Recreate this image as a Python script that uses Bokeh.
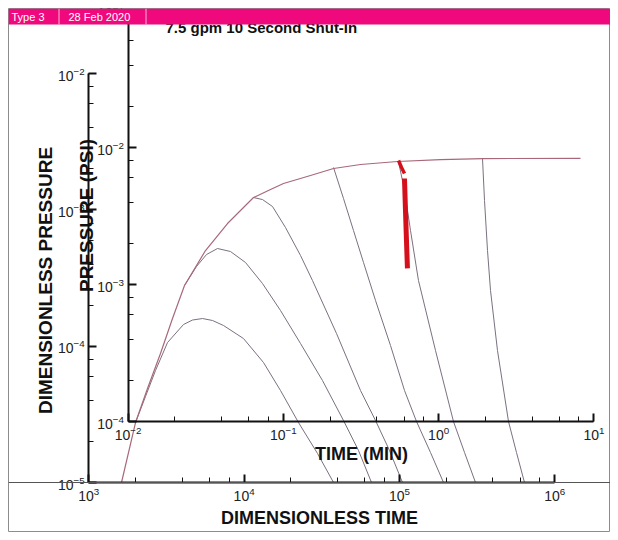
import math
from bokeh.plotting import figure
from bokeh.models import (Range1d, LogScale, LogAxis, Label, BoxAnnotation, Span)
from bokeh.embed import file_html
from bokeh.resources import INLINE

# ---------------- data ----------------
# Type-curve envelope (dimensionless time, dimensionless pressure)
env_t = [1624, 1999, 2388, 2895, 3459, 4133, 5643, 7818, 11496, 14792, 17934, 26765,
         37650, 56180, 97230, 183900, 348000, 1466000]
env_p = [1.0e-5, 2.754e-5, 4.891e-5, 8.835e-5, 1.595e-4, 2.786e-4, 5.031e-4,
         7.937e-4, 1.231e-3, 1.410e-3, 1.560e-3, 1.786e-3, 2.010e-3, 2.150e-3,
         2.262e-3, 2.339e-3, 2.379e-3, 2.382e-3]

# Shut-in (fall-off) type curves
a_t = [1999, 2318, 2689, 3212, 4072, 4653, 5396, 6258, 7369, 9911, 13332, 17155,
       22400, 29700, 37650]
a_p = [2.754e-5, 4.273e-5, 6.630e-5, 1.063e-4, 1.442e-4, 1.555e-4, 1.595e-4,
       1.543e-4, 1.418e-4, 1.138e-4, 7.589e-5, 4.729e-5, 2.754e-5, 1.632e-5, 1.0e-5]
b_t = [4133, 4937, 5727, 6741, 8173, 10210, 13136, 17155, 23083, 31974, 43660, 54538, 66130]
b_p = [2.786e-4, 3.840e-4, 4.700e-4, 5.204e-4, 4.947e-4, 4.109e-4, 2.881e-4,
       1.826e-4, 1.046e-4, 5.597e-5, 2.848e-5, 1.716e-5, 1.0e-5]
c_t = [11496, 13136, 15238, 18474, 23083, 27566, 39355, 56180, 70190, 86370, 104700]
c_p = [1.231e-3, 1.190e-3, 1.058e-3, 7.420e-4, 4.624e-4, 3.031e-4, 1.239e-4,
       4.729e-5, 2.848e-5, 1.716e-5, 1.0e-5]
d_t = [37650, 43660, 50630, 58730, 70190, 87650, 107900, 128900, 158600, 192300]
d_p = [2.044e-3, 1.211e-3, 7.053e-4, 4.109e-4, 2.163e-4, 1.011e-4, 4.729e-5,
       2.800e-5, 1.660e-5, 1.0e-5]
e_t = [98670, 107840, 117900, 132700, 170800, 222990, 262600, 309000]
e_p = [2.262e-3, 1.386e-3, 7.053e-4, 3.031e-4, 9.294e-5, 2.800e-5, 1.660e-5, 1.0e-5]
f_t = [342900, 353200, 369300, 386100, 428200, 504100, 567500, 639000]
f_p = [2.379e-3, 1.171e-3, 5.031e-4, 2.561e-4, 9.294e-5, 2.800e-5, 1.660e-5, 1.0e-5]

# Measured data (time in minutes, pressure in psi)
meas1_t = [0.552, 0.577, 0.603]
meas1_p = [8.04e-3, 7.15e-3, 6.46e-3]
meas2_t = [0.603, 0.612, 0.621, 0.630]
meas2_p = [5.94e-3, 3.47e-3, 2.10e-3, 1.31e-3]

title_text = "7.5 gpm 10 Second Shut-In"
header_left = "Type 3"
header_date = "28 Feb 2020"

# ---------------- layout ----------------
PAD = 8                              # white margin kept inside the canvas
FX0, FY0, FW, FH = 8, 8, 602, 524    # frame position in picture pixels


def xr(log0, px0, dec):
    return Range1d(10 ** (log0 + (FX0 - px0) / dec), 10 ** (log0 + (FX0 + FW - px0) / dec))


def yr(log0, py0, dec):
    return Range1d(10 ** (log0 - (FY0 + FH - py0) / dec), 10 ** (log0 + (py0 - FY0) / dec))


def sx(px):
    return px - FX0


def sy(py):
    return FY0 + FH - py


outer_x = xr(3, 88.3, 155.3)
outer_y = yr(-5, 482, 136.33)
inner_x = xr(-2, 127.5, 155.3)
inner_y = yr(-4, 421, 137)

p = figure(width=FW + PAD, height=FH + PAD, x_axis_type="log", y_axis_type="log",
           x_range=outer_x, y_range=outer_y,
           x_axis_location=None, y_axis_location=None,
           toolbar_location=None, output_backend="svg",
           min_border_left=PAD, min_border_top=PAD,
           min_border_right=0, min_border_bottom=0)
p.extra_x_ranges = {"min": inner_x}
p.extra_x_scales = {"min": LogScale()}
p.extra_y_ranges = {"psi": inner_y}
p.extra_y_scales = {"psi": LogScale()}
p.grid.visible = False
p.outline_line_color = "#8c8c8c"
p.background_fill_color = "white"
p.border_fill_color = "white"

FONT = "Liberation Sans"


def style_axis(ax):
    ax.axis_line_width = 2
    ax.axis_line_color = "#111111"
    ax.major_tick_in = 8
    ax.major_tick_out = 0
    ax.minor_tick_in = 5
    ax.minor_tick_out = 0
    ax.major_tick_line_width = 2
    ax.major_tick_line_color = "#111111"
    ax.minor_tick_line_color = "#111111"
    ax.minor_tick_line_width = 1
    ax.major_label_text_font = FONT
    ax.major_label_text_font_size = "14px"
    ax.major_label_text_color = "#222222"
    ax.major_label_standoff = 4
    return ax


ax_oy = style_axis(LogAxis(fixed_location=1e3, bounds=(1e-5, 1e-2)))
ax_ox = style_axis(LogAxis(fixed_location=1e-5, bounds=(1e3, 1e6)))
ax_iy = style_axis(LogAxis(x_range_name="min", y_range_name="psi",
                           fixed_location=1e-2, bounds=(1e-4, 1e-1)))
ax_ix = style_axis(LogAxis(x_range_name="min", y_range_name="psi",
                           fixed_location=1e-4, bounds=(1e-2, 1e1)))
p.add_layout(ax_oy, "left")
p.add_layout(ax_ox, "below")
p.add_layout(ax_iy, "left")
p.add_layout(ax_ix, "below")

p.add_layout(Span(location=1e-5, dimension="width", line_color="#555555", line_width=1))

# curves
CURVE = "#7b7080"
for tt, pp in [(a_t, a_p), (b_t, b_p), (c_t, c_p), (d_t, d_p), (e_t, e_p), (f_t, f_p)]:
    p.line(tt, pp, line_color=CURVE, line_width=1, line_join="round")
p.line(env_t, env_p, line_color="#a8687a", line_width=1.2, line_join="round")

p.line(meas1_t, meas1_p, x_range_name="min", y_range_name="psi",
       line_color="#d60f1d", line_width=3.5)
p.line(meas2_t, meas2_p, x_range_name="min", y_range_name="psi",
       line_color="#d60f1d", line_width=5)


# axis titles
def title_label(text, px, py, angle=0.0, size="18px"):
    p.add_layout(Label(x=sx(px), y=sy(py), x_units="screen", y_units="screen",
                       text=text, angle=angle, text_align="center",
                       text_baseline="middle", text_font=FONT,
                       text_font_style="bold", text_font_size=size,
                       text_color="#111111"))


title_label("DIMENSIONLESS PRESSURE", 45, 280, math.pi / 2, "19px")
title_label("PRESSURE (PSI)", 86, 215, math.pi / 2, "19px")
title_label("TIME (MIN)", 361, 453)
title_label("DIMENSIONLESS TIME", 319, 517)

p.add_layout(Label(x=sx(165), y=sy(27), x_units="screen", y_units="screen",
                   text=title_text, text_font=FONT, text_font_style="bold",
                   text_font_size="15px", text_color="#111111",
                   text_baseline="middle"))

# header bar
p.add_layout(BoxAnnotation(left=0, right=FW, top=FH, bottom=sy(24),
                           left_units="screen", right_units="screen",
                           top_units="screen", bottom_units="screen",
                           fill_color="#f0097c", fill_alpha=1.0,
                           line_color=None, level="overlay"))
for xpos in (58, 145):
    p.add_layout(BoxAnnotation(left=sx(xpos), right=sx(xpos) + 1, top=FH, bottom=sy(24),
                               left_units="screen", right_units="screen",
                               top_units="screen", bottom_units="screen",
                               fill_color="#f9b3d3", fill_alpha=1.0,
                               line_color=None, level="overlay"))
for txt, xpos in ((header_left, 11), (header_date, 68)):
    p.add_layout(Label(x=sx(xpos), y=sy(16), x_units="screen", y_units="screen",
                       text=txt, text_font=FONT, text_font_size="11px",
                       text_color="white", text_baseline="middle",
                       level="overlay"))

open("out.html", "w").write(file_html(p, INLINE))
